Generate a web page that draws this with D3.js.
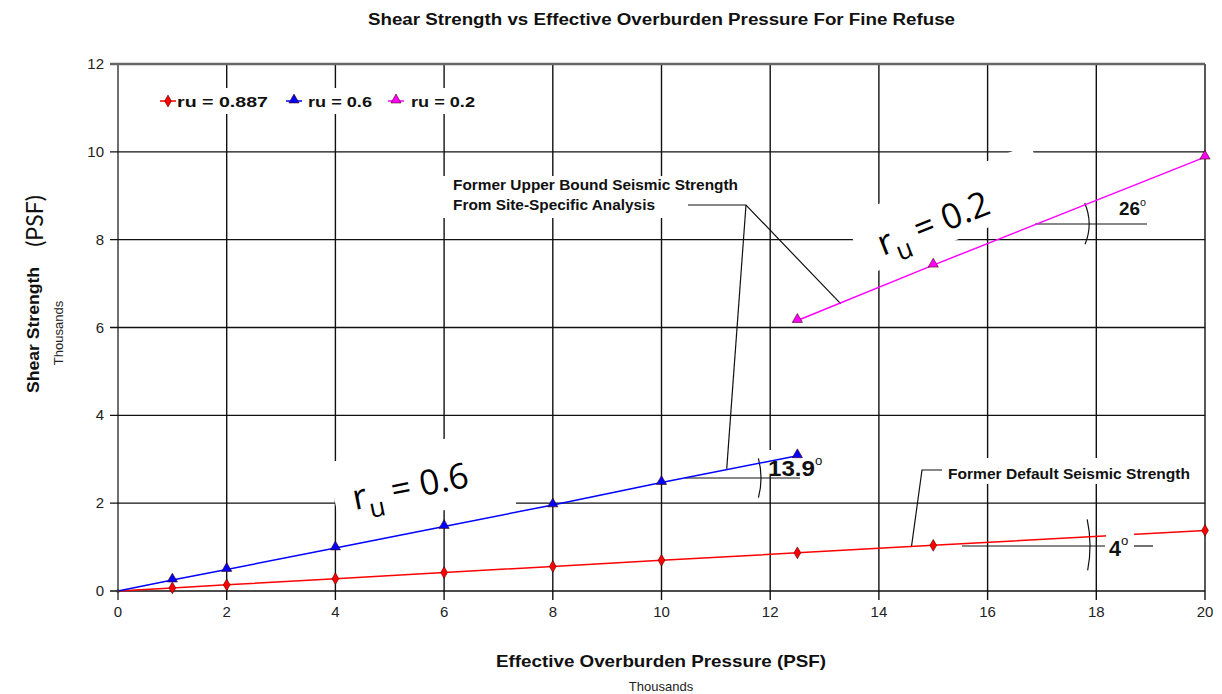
<!DOCTYPE html>
<html><head><meta charset="utf-8">
<script src="https://cdn.jsdelivr.net/npm/d3@7"></script>
<style>
body{margin:0;background:#fff;}
svg{display:block;}
.narrow{font-family:"Liberation Sans Narrow","Arial Narrow","Liberation Sans",sans-serif;}
.bold{font-family:"Liberation Sans",Arial,sans-serif;font-weight:bold;}
</style></head><body>
<svg id="c" width="1222" height="694"></svg>
<script>
// ---- data ----
const xTicks = [0,2,4,6,8,10,12,14,16,18,20];
const yTicks = [0,2,4,6,8,10,12];
const xRed = [0,1,2,4,6,8,10,12.5,15,20];
const yRed = [0,0.07,0.14,0.28,0.42,0.56,0.70,0.87,1.04,1.38];
const xBlue = [0,1,2,4,6,8,10,12.5];
const yBlue = [0,0.25,0.49,0.98,1.47,1.96,2.47,3.08];
const xPink = [12.5,15,20];
const yPink = [6.16,7.42,9.88];
const seriesNames = ["ru = 0.887","ru = 0.6","ru = 0.2"];
const seriesColors = ["#ff0000","#0000ff","#ff00ff"];

const svg = d3.select("#c");
const x = d3.scaleLinear().domain([0,20]).range([118,1205]);
const y = d3.scaleLinear().domain([0,12]).range([591,64]);

// title
svg.append("text").attr("class","narrow").attr("x",368).attr("y",25)
  .attr("font-size",16).attr("font-weight","bold").attr("fill","#111")
  .attr("textLength",587).attr("lengthAdjust","spacingAndGlyphs")
  .text("Shear Strength vs Effective Overburden Pressure For Fine Refuse");

// gridlines
const g = svg.append("g");
g.selectAll(".vg").data(xTicks).join("line")
  .attr("x1",d=>x(d)).attr("x2",d=>x(d)).attr("y1",y(12)).attr("y2",y(0)+9)
  .attr("stroke",d=>d===0?"#333":"#111").attr("stroke-width",1.4);
g.selectAll(".hg").data(yTicks).join("line")
  .attr("x1",x(0)-8).attr("x2",x(20)).attr("y1",d=>y(d)).attr("y2",d=>y(d))
  .attr("stroke",d=>d===12?"#666":"#111").attr("stroke-width",d=>d===12?2.5:1.4);

// tick labels
svg.selectAll(".xl").data(xTicks).join("text").attr("class","narrow")
  .attr("x",d=>x(d)).attr("y",617).attr("text-anchor","middle").attr("font-size",15).attr("fill","#222")
  .text(d=>d);
svg.selectAll(".yl").data(yTicks).join("text").attr("class","narrow")
  .attr("x",104).attr("y",d=>y(d)+5).attr("text-anchor","end").attr("font-size",15).attr("fill","#222")
  .text(d=>d);

// axis titles
svg.append("text").attr("class","bold").attr("x",496).attr("y",667)
  .attr("font-size",17).attr("fill","#111").attr("textLength",330).attr("lengthAdjust","spacingAndGlyphs")
  .text("Effective Overburden Pressure (PSF)");
svg.append("text").attr("class","narrow").attr("x",661).attr("y",691).attr("text-anchor","middle")
  .attr("font-size",13).attr("fill","#222").text("Thousands");
svg.append("text").attr("class","bold").attr("transform","translate(39,393) rotate(-90)")
  .attr("font-size",16).attr("fill","#111").attr("textLength",126).attr("lengthAdjust","spacingAndGlyphs").text("Shear Strength");
svg.append("text").attr("transform","translate(43,221) rotate(-90)").attr("text-anchor","middle")
  .attr("font-family","Lato,'Open Sans',sans-serif").attr("font-size",23).attr("fill","#111").text("(PSF)");
svg.append("text").attr("class","narrow").attr("transform","translate(63,333) rotate(-90)").attr("text-anchor","middle")
  .attr("font-size",13).attr("fill","#222").text("Thousands");

// white boxes behind annotations
const wb = svg.append("g").attr("fill","#fff");
wb.append("rect").attr("x",152).attr("y",88).attr("width",330).attr("height",26);
wb.append("rect").attr("x",440).attr("y",176).attr("width",300).attr("height",42);
wb.append("rect").attr("x",940).attr("y",458).attr("width",256).attr("height",26);
wb.append("rect").attr("x",764).attr("y",450).attr("width",70).attr("height",26);
wb.append("rect").attr("x",1112).attr("y",186).attr("width",46).attr("height",28);
wb.append("rect").attr("transform","translate(355,510) rotate(-11.5)").attr("x",-18).attr("y",-52).attr("width",196).attr("height",70);
wb.append("rect").attr("x",440).attr("y",497).attr("width",76).attr("height",12);
wb.append("rect").attr("transform","translate(883,256) rotate(-21.5)").attr("x",-22).attr("y",-50).attr("width",200).attr("height",62);

// leader lines
const lead = svg.append("g").attr("fill","none").attr("stroke","#111").attr("stroke-width",1.2);
lead.append("path").attr("d",`M688,205 L746,205 L${x(13.3)},${y(13.3*0.4877+0.05)}`);
lead.append("path").attr("d",`M746,205 L${x(11.2)},${y(11.2*0.2465+0.02)}`);
lead.append("path").attr("d",`M942,470 L922,470 L${x(14.6)},${y(14.6*0.0695)}`);

// angle markers
function angleMark(cx, cy, xEnd, r, a1, a2, gap){
  const gg = svg.append("g").attr("fill","none").attr("stroke","#111").attr("stroke-width",1.2);
  if(gap){
    gg.append("line").attr("x1",cx).attr("x2",gap[0]).attr("y1",cy).attr("y2",cy);
    gg.append("line").attr("x1",gap[1]).attr("x2",xEnd).attr("y1",cy).attr("y2",cy);
  } else {
    gg.append("line").attr("x1",cx).attr("x2",xEnd).attr("y1",cy).attr("y2",cy);
  }
  const p1=[cx+r*Math.cos(a1*Math.PI/180), cy+r*Math.sin(a1*Math.PI/180)];
  const p2=[cx+r*Math.cos(a2*Math.PI/180), cy+r*Math.sin(a2*Math.PI/180)];
  gg.append("path").attr("d",`M${p1[0]},${p1[1]} A${r},${r} 0 0 1 ${p2[0]},${p2[1]}`);
}
angleMark(685,478,800,76,-15,15);
angleMark(962,546,1153,128,-12,11,[1105,1134]);
angleMark(1035,224,1147,54,-23,22);

// data lines
const line = d3.line().x(d=>x(d[0])).y(d=>y(d[1]));
const series = [
  {xs:xRed, ys:yRed, c:seriesColors[0], m:"diamond"},
  {xs:xBlue, ys:yBlue, c:seriesColors[1], m:"tri"},
  {xs:xPink, ys:yPink, c:seriesColors[2], m:"tri"}
];
series.forEach(s=>{
  const pts = s.xs.map((v,i)=>[v,s.ys[i]]);
  svg.append("path").datum(pts).attr("d",line).attr("fill","none").attr("stroke",s.c).attr("stroke-width",1.5);
});
// box of the 4 deg label lies over the red line
svg.append("rect").attr("x",1106).attr("y",531).attr("width",28).attr("height",28).attr("fill","#fff");

const diamond = d3.symbol().type(d3.symbolDiamond).size(40);
const tri = d3.symbol().type(d3.symbolTriangle).size(45);
series.forEach(s=>{
  const pts = s.xs.map((v,i)=>[v,s.ys[i]]).filter(p=>p[0]>0);
  svg.selectAll(null).data(pts).join("path")
    .attr("transform",d=>`translate(${x(d[0])},${y(d[1])+(s.m==="tri"?-1:0)})`)
    .attr("d",s.m==="tri"?tri:diamond).attr("fill",s.c).attr("stroke","#400").attr("stroke-width",0.6);
});
svg.append("circle").attr("cx",x(0)).attr("cy",y(0)).attr("r",1.8).attr("fill","#333");

// legend
const legX=[160,286,388], legT=[177,308,411], legW=[91,64,64];
series.forEach((s,i)=>{
  svg.append("line").attr("x1",legX[i]).attr("x2",legX[i]+16).attr("y1",101).attr("y2",101).attr("stroke",s.c).attr("stroke-width",1.5);
  svg.append("path").attr("transform",`translate(${legX[i]+8},${101+(s.m==="tri"?-1:0)})`).attr("d",s.m==="tri"?tri:diamond)
    .attr("fill",s.c).attr("stroke","#400").attr("stroke-width",0.6);
  svg.append("text").attr("class","bold").attr("x",legT[i]).attr("y",107).attr("font-size",15).attr("fill","#111")
    .attr("textLength",legW[i]).attr("lengthAdjust","spacingAndGlyphs").text(seriesNames[i]);
});

// annotation text
const at = svg.append("g").attr("class","bold").attr("fill","#111").attr("font-size",15);
at.append("text").attr("x",453).attr("y",190).attr("textLength",285).attr("lengthAdjust","spacingAndGlyphs").text("Former Upper Bound Seismic Strength");
at.append("text").attr("x",453).attr("y",210).attr("textLength",202).attr("lengthAdjust","spacingAndGlyphs").text("From Site-Specific Analysis");
at.append("text").attr("x",948).attr("y",479).attr("textLength",242).attr("lengthAdjust","spacingAndGlyphs").text("Former Default Seismic Strength");
function deg(xp, yp, txt, fs, w){
  const t = svg.append("text").attr("class","narrow").attr("x",xp).attr("y",yp).attr("font-size",fs).attr("font-weight","bold").attr("fill","#111");
  t.append("tspan").attr("textLength",w).attr("lengthAdjust","spacingAndGlyphs").text(txt);
  t.append("tspan").attr("dy",-fs*0.5).attr("font-size",fs*0.6).attr("font-weight","normal").text("o");
}
deg(768,476,"13.9",22,47);
deg(1109,556,"4",22,12);
deg(1119,215,"26",18,21);

// r_u labels
function ruLabel(tx,ty,rot,val){
  const t = svg.append("text").attr("transform",`translate(${tx},${ty}) rotate(${rot})`)
    .attr("font-family","'Open Sans',Lato,sans-serif").attr("font-size",35).attr("fill","#000");
  t.append("tspan").text("r");
  t.append("tspan").attr("dy",11).attr("font-size",26).text("u");
  t.append("tspan").attr("dy",-11).text(" = "+val);
}
ruLabel(355,510,-11.5,"0.6");
ruLabel(883,256,-21.5,"0.2");
</script>
</body></html>
